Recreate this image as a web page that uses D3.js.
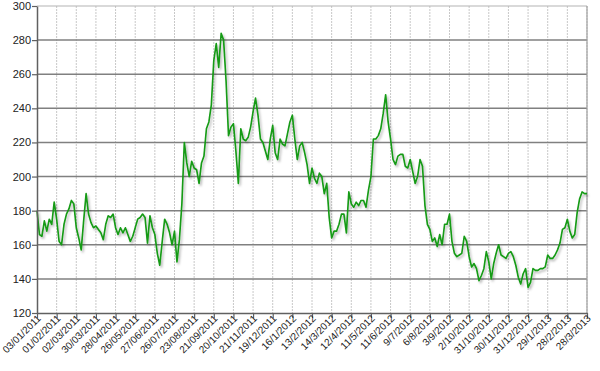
<!DOCTYPE html>
<html>
<head>
<meta charset="utf-8">
<script src="https://cdn.jsdelivr.net/npm/d3@7"></script>
<style>
  body { margin: 0; background: #fff; }
  svg { display: block; font-family: "Liberation Sans", Arial, sans-serif; }
</style>
</head>
<body>
<svg></svg>
<script>
const tickLabels = ['03/01/2011', '01/02/2011', '02/03/2011', '30/03/2011', '28/04/2011', '26/05/2011',
  '27/06/2011', '26/07/2011', '23/08/2011', '21/09/2011', '20/10/2011', '21/11/2011', '19/12/2011',
  '16/1/2012', '13/2/2012', '14/3/2012', '12/4/2012', '11/5/2012', '11/6/2012', '9/7/2012', '6/8/2012',
  '3/9/2012', '2/10/2012', '31/10/2012', '30/11/2012', '31/12/2012', '29/1/2013', '28/2/2013', '28/3/2013'];
const stepsPerTick = 8;
const yTicks = [120, 140, 160, 180, 200, 220, 240, 260, 280, 300];

const values = [
  180, 166, 165, 174, 168, 175, 172, 185, 175, 162, 160, 172, 178, 181, 186, 184, 170, 164, 157, 174,
  190, 178, 173, 170, 171, 169, 167, 163, 172, 177, 176, 178, 170, 166, 170, 167, 170, 166, 162, 165,
  170, 175, 176, 178, 176, 161, 177, 170, 166, 155, 148, 162, 175, 172, 167, 160, 168, 150, 163, 184,
  220, 208, 200, 209, 205, 204, 196, 208, 212, 228, 232, 242, 268, 278, 264, 284, 280, 256, 224, 229,
  231, 215, 196, 228, 222, 221, 223, 229, 238, 246, 236, 222, 220, 215, 210, 222, 230, 214, 210, 222,
  219, 218, 225, 232, 236, 222, 210, 218, 220, 214, 207, 196, 205, 199, 196, 202, 200, 190, 196, 176,
  164, 168, 168, 172, 178, 178, 167, 191, 184, 182, 185, 183, 186, 186, 182, 192, 200, 222, 222, 224,
  228, 237, 248, 232, 222, 210, 207, 212, 213, 213, 206, 205, 210, 203, 196, 200, 210, 206, 183, 172,
  169, 162, 164, 159, 166, 160, 172, 172, 178, 162, 155, 153, 154, 155, 165, 162, 153, 147, 149, 146,
  139, 142, 146, 156, 150, 140, 149, 155, 160, 154, 153, 152, 155, 156, 153, 148, 141, 137, 143, 146,
  135, 138, 146, 145, 145, 146, 146, 147, 154, 152, 152, 154, 157, 161, 169, 170, 175, 168, 164, 166,
  179, 187, 191, 190, 190
];

const width = 600, height = 371;
const margin = {top: 6, right: 13, bottom: 58, left: 37};

const svg = d3.select('svg')
  .attr('width', width)
  .attr('height', height);

const x = d3.scaleLinear()
  .domain([0, (tickLabels.length - 1) * stepsPerTick])
  .range([margin.left, width - margin.right]);

const y = d3.scaleLinear()
  .domain([120, 300])
  .range([height - margin.bottom, margin.top]);

const defs = svg.append('defs');
const shadow = defs.append('filter')
  .attr('id', 'shadow')
  .attr('x', '-10%').attr('y', '-10%')
  .attr('width', '120%').attr('height', '120%');
shadow.append('feDropShadow')
  .attr('dx', 1.5).attr('dy', 2)
  .attr('stdDeviation', 1)
  .attr('flood-color', '#000')
  .attr('flood-opacity', 0.3);

// vertical dotted grid
svg.append('g')
  .selectAll('line')
  .data(tickLabels.slice(1))
  .join('line')
  .attr('x1', (d, i) => x((i + 1) * stepsPerTick))
  .attr('x2', (d, i) => x((i + 1) * stepsPerTick))
  .attr('y1', y(300))
  .attr('y2', y(120))
  .attr('stroke', '#c8c8c8')
  .attr('stroke-width', 1)
  .attr('stroke-dasharray', '2,1');

// horizontal grid
svg.append('g')
  .selectAll('line')
  .data(yTicks.slice(1, -1))
  .join('line')
  .attr('x1', x.range()[0])
  .attr('x2', x.range()[1])
  .attr('y1', d => y(d))
  .attr('y2', d => y(d))
  .attr('stroke', '#808080')
  .attr('stroke-width', 1.5);

// top and right border
svg.append('line')
  .attr('x1', x.range()[0]).attr('x2', x.range()[1])
  .attr('y1', y(300)).attr('y2', y(300))
  .attr('stroke', '#b4b4b4').attr('stroke-width', 1.2);
svg.append('line')
  .attr('x1', x.range()[1]).attr('x2', x.range()[1])
  .attr('y1', y(300)).attr('y2', y(120))
  .attr('stroke', '#a0a0a0').attr('stroke-width', 1.2);

// the series
const line = d3.line()
  .x((d, i) => x(i))
  .y(d => y(d));

svg.append('path')
  .datum(values)
  .attr('d', line)
  .attr('fill', 'none')
  .attr('stroke', '#139a13')
  .attr('stroke-width', 1.6)
  .attr('stroke-linejoin', 'round')
  .attr('filter', 'url(#shadow)');

// y axis
const yAxis = svg.append('g')
  .attr('transform', `translate(${margin.left},0)`)
  .call(d3.axisLeft(y).tickValues(yTicks).tickSize(5).tickSizeOuter(0));
yAxis.select('.domain').attr('stroke', '#606060').attr('stroke-width', 1.5);
yAxis.selectAll('.tick line').attr('stroke', '#606060').attr('stroke-width', 1.2);
yAxis.selectAll('.tick text')
  .attr('x', -6)
  .attr('fill', '#222')
  .style('font-size', '11px')
  .style('font-family', '"Liberation Sans", Arial, sans-serif');

// x axis
const xAxis = svg.append('g')
  .attr('transform', `translate(0,${height - margin.bottom})`)
  .call(d3.axisBottom(x)
    .tickValues(tickLabels.map((d, i) => i * stepsPerTick))
    .tickFormat((d, i) => tickLabels[i])
    .tickSize(5)
    .tickSizeOuter(0));
xAxis.select('.domain').attr('stroke', '#606060').attr('stroke-width', 1.5);
xAxis.selectAll('.tick line').attr('stroke', '#606060').attr('stroke-width', 1.2);
xAxis.selectAll('.tick text')
  .attr('fill', '#222')
  .attr('text-anchor', 'end')
  .attr('dy', 0)
  .attr('y', 0)
  .attr('transform', 'translate(4,6) rotate(-45)')
  .style('font-size', '10px')
  .style('font-family', '"Liberation Sans", Arial, sans-serif');
</script>
</body>
</html>
